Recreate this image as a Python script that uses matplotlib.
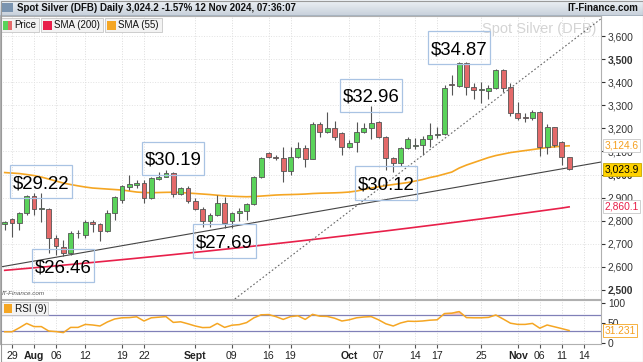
import matplotlib.pyplot as plt
from matplotlib.patches import Rectangle
import numpy as np
import pandas as pd

plt.rcParams['font.family'] = ['Liberation Sans', 'DejaVu Sans']

# trading days shown (Jul 26 .. Nov 12 2024)
dates = pd.bdate_range('2024-07-26', '2024-11-12')
axis_days = pd.bdate_range('2024-07-26', '2024-11-14')

opens = [2786, 2806, 2789, 2835, 2907, 2852, 2849, 2724, 2687, 2659,
         2748, 2738, 2796, 2786, 2756, 2835, 2890, 2946, 2955, 2965,
         2897, 2981, 2991, 3008, 2914, 2940, 2887, 2849, 2800, 2825,
         2878, 2800, 2832, 2842, 2872, 2988, 3092, 3076, 3070, 3015,
         3077, 3114, 3067, 3218, 3186, 3203, 3179, 3118, 3142, 3186,
         3203, 3229, 3161, 3070, 3049, 3114, 3124, 3128, 3153, 3171,
         3176, 3393, 3385, 3482, 3378, 3366, 3363, 3374, 3453, 3378,
         3268, 3251, 3244, 3272, 3118, 3205, 3142, 3075]
highs = [2800, 2812, 2839, 2911, 2919, 2921, 2854, 2738, 2717, 2757,
         2760, 2803, 2803, 2790, 2846, 2907, 2954, 2998, 2976, 2976,
         2989, 3012, 3019, 3011, 2947, 2950, 2897, 2858, 2832, 2911,
         2904, 2839, 2854, 2878, 2994, 3077, 3099, 3085, 3121, 3121,
         3142, 3128, 3229, 3229, 3272, 3232, 3186, 3150, 3229, 3225,
         3296, 3232, 3167, 3077, 3118, 3161, 3157, 3167, 3225, 3207,
         3388, 3431, 3489, 3487, 3395, 3402, 3388, 3456, 3456, 3395,
         3315, 3265, 3280, 3277, 3219, 3207, 3147, 3077]
lows = [2760, 2730, 2760, 2825, 2825, 2796, 2659, 2652, 2646, 2652,
        2724, 2725, 2752, 2713, 2752, 2803, 2875, 2933, 2942, 2875,
        2894, 2976, 2988, 2904, 2911, 2875, 2846, 2774, 2774, 2822,
        2769, 2767, 2800, 2803, 2868, 2984, 3070, 3063, 2969, 2998,
        3070, 3034, 3066, 3161, 3181, 3150, 3085, 3114, 3099, 3179,
        3153, 3157, 3019, 3012, 3037, 3109, 3109, 3085, 3121, 3157,
        3171, 3345, 3380, 3345, 3326, 3309, 3326, 3369, 3359, 3254,
        3236, 3229, 3236, 3080, 3089, 3121, 3041, 3022]
closes = [2796, 2789, 2832, 2907, 2849, 2855, 2724, 2691, 2659, 2746,
          2747, 2796, 2786, 2756, 2832, 2901, 2950, 2960, 2963, 2897,
          2984, 2991, 3008, 2914, 2940, 2887, 2849, 2800, 2825, 2878,
          2791, 2832, 2842, 2872, 2988, 3070, 3077, 3073, 3015, 3077,
          3116, 3066, 3218, 3186, 3203, 3164, 3118, 3138, 3186, 3203,
          3225, 3164, 3070, 3049, 3114, 3153, 3128, 3153, 3171, 3176,
          3374, 3389, 3482, 3380, 3366, 3370, 3374, 3453, 3374, 3268,
          3244, 3244, 3272, 3118, 3205, 3128, 3075, 3024]

sma55 = [3008.8, 3006.6, 3004.5, 3000.2, 2995.8, 2989.3, 2980.7, 2972.0, 2963.3, 2956.9,
         2951.2, 2946.0, 2941.7, 2939.5, 2937.3, 2935.2, 2933.0, 2928.7, 2924.4, 2922.2,
         2921.3, 2922.2, 2923.1, 2923.5, 2922.2, 2920.0, 2917.9, 2915.7, 2913.5, 2910.5,
         2907.9, 2906.2, 2904.9, 2904.0, 2904.9, 2907.0, 2909.2, 2911.4, 2912.7, 2913.5,
         2914.4, 2915.7, 2917.9, 2919.2, 2920.0, 2920.9, 2922.2, 2924.4, 2928.7, 2935.2,
         2941.7, 2946.9, 2952.5, 2956.9, 2961.2, 2965.5, 2972.0, 2978.5, 2987.2, 2993.6,
         3002.3, 3011.0, 3028.3, 3041.3, 3052.1, 3063.0, 3073.8, 3082.5, 3088.9, 3095.4,
         3099.8, 3104.1, 3108.4, 3112.7, 3117.1, 3120.1, 3122.7, 3124.6]
sma200 = [2585.2, 2587.9, 2590.7, 2593.5, 2596.2, 2599.1, 2601.9, 2604.7, 2607.6, 2610.5,
          2613.5, 2616.4, 2619.4, 2622.4, 2625.4, 2628.4, 2631.5, 2634.5, 2637.6, 2640.8,
          2643.9, 2647.1, 2650.2, 2653.4, 2656.7, 2659.9, 2663.2, 2666.5, 2669.8, 2673.2,
          2676.5, 2679.9, 2683.3, 2686.8, 2690.2, 2693.7, 2697.2, 2700.7, 2704.3, 2707.8,
          2711.4, 2715.0, 2718.6, 2722.3, 2725.9, 2729.7, 2733.4, 2737.0, 2740.9, 2744.7,
          2748.4, 2752.3, 2756.0, 2759.9, 2763.9, 2767.7, 2771.7, 2775.7, 2779.6, 2783.6,
          2787.6, 2791.7, 2795.7, 2799.9, 2804.0, 2808.1, 2812.3, 2816.4, 2820.6, 2824.9,
          2829.1, 2833.4, 2837.7, 2842.0, 2846.3, 2850.7, 2855.0, 2860.1]
rsi9 = [28, 28, 38, 49, 41, 41, 30, 28.5, 26, 39,
        39, 46.5, 45, 42.5, 52.5, 60, 63, 63.5, 65.5, 55,
        63, 64.5, 66, 51.5, 53, 48, 42.5, 38.5, 39, 49,
        39, 44.5, 46, 51, 63, 70.5, 71, 66, 59, 66,
        68, 59, 71.5, 67, 66.5, 62, 55, 58, 63, 65,
        66, 58, 48, 42.5, 50, 54.5, 54, 55, 57, 58,
        73.5, 74.5, 78.5, 63.5, 63, 63, 64, 70, 60, 49.5,
        46.5, 46.5, 49, 37, 45, 40.5, 36, 31.231]

tick_dates = ['2024-07-29', '2024-08-01', '2024-08-06', '2024-08-12', '2024-08-19',
              '2024-08-22', '2024-09-02', '2024-09-09', '2024-09-16', '2024-09-19',
              '2024-10-01', '2024-10-07', '2024-10-14', '2024-10-17', '2024-10-25',
              '2024-11-01', '2024-11-06', '2024-11-11', '2024-11-14']
tick_labels = ['29', 'Aug', '06', '12', '19', '22', 'Sept', '09', '16', '19',
               'Oct', '07', '14', '17', '25', 'Nov', '06', '11', '14']
month_labels = ['Aug', 'Sept', 'Oct', 'Nov']
price_ticks = list(range(2500, 3700, 100))

# callouts: text, date, price of box centre
callouts = [('$29.22', '2024-08-02', 2969), ('$26.46', '2024-08-07', 2605),
            ('$30.19', '2024-08-28', 3070), ('$27.69', '2024-09-06', 2713),
            ('$32.96', '2024-10-04', 3343), ('$30.12', '2024-10-08', 2963),
            ('$34.87', '2024-10-22', 3550)]
# trend lines: two anchor points each
trend_solid = [('2024-07-29', 2608.6), ('2024-11-12', 3030.2)]
trend_dotted = [('2024-09-11', 2500), ('2024-11-08', 3520.6)]

up_col, dn_col = '#5ad35a', '#e46a6a'
W, H = 643, 362


def box(l, t, r, b):
    return [l / W, 1 - b / H, (r - l) / W, (b - t) / H]


def xpos(d):
    return axis_days.get_loc(pd.Timestamp(d))


fig = plt.figure(figsize=(W / 100, H / 100), dpi=100)
ax = fig.add_axes(box(0, 16, 601, 299))
ax_r = fig.add_axes(box(0, 300, 601, 344), sharex=ax)

x = np.arange(len(dates))
for i in x:
    o, h, l, c = opens[i], highs[i], lows[i], closes[i]
    col = up_col if c >= o else dn_col
    ax.vlines(i, l, h, color='#555555', lw=0.8, zorder=3)
    ax.add_patch(Rectangle((i - 0.33, min(o, c)), 0.66, max(abs(c - o), 1.5),
                           fc=col, ec='#555555', lw=0.6, zorder=4))

ax.plot(x, sma200, color='#e8204a', lw=1.2, zorder=2)
ax.plot(x, sma55, color='#f5a623', lw=1.2, zorder=2)

(d1, p1), (d2, p2) = trend_solid
ax.axline((xpos(d1), p1), (xpos(d2), p2), color='#444444', lw=0.8, zorder=2)
(d1, p1), (d2, p2) = trend_dotted
ax.axline((xpos(d1), p1), (xpos(d2), p2), color='#666666', lw=0.8, ls=(0, (1.5, 2)), zorder=5)

bw, bh = 8.5, 145
for txt, d, p in callouts:
    xc = xpos(d)
    ax.add_patch(Rectangle((xc - bw / 2, p - bh / 2), bw, bh, fc='none',
                           ec='#a9c3e3', lw=0.9, zorder=6))
    ax.text(xc, p, txt, fontsize=13.4, ha='center', va='center_baseline', zorder=7)

ax.text(0.993, 0.955, 'Spot Silver (DFB)', transform=ax.transAxes, ha='right',
        va='center', fontsize=10.5, color='#d4d4d4', zorder=1)
ax.text(0.003, 0.015, 'IT-Finance.com', transform=ax.transAxes, fontsize=4.5,
        color='#555555', style='italic', zorder=7)

xt = [xpos(d) for d in tick_dates]
for a in (ax, ax_r):
    a.set_xticks(xt)
    a.grid(axis='x', color='#dcdcdc', ls=':', lw=0.7)
    a.yaxis.tick_right()
    a.tick_params(axis='y', length=3, pad=2, labelsize=7.4, colors='#333333')
    a.tick_params(axis='x', length=3, colors='#555555')
    for s in a.spines.values():
        s.set_color('#b0b0b0')
        s.set_linewidth(0.8)
ax.set_xlim(-0.64, 81.35)
ax.set_ylim(2461, 3687)
ax.set_yticks(price_ticks)
ax.set_yticklabels([f'{v:,}' for v in price_ticks])
for lab, v in zip(ax.get_yticklabels(), price_ticks):
    if v % 500 == 0:
        lab.set_fontweight('bold')
ax.grid(axis='y', color='#e2e2e2', ls=':', lw=0.7)
ax.tick_params(axis='x', labelbottom=False, length=0)

# last-value labels on the price axis
tr = ax.get_yaxis_transform()
ax.text(1.006, sma55[-1], f'{sma55[-1]:,.1f}', transform=tr, fontsize=7.4, color='#f5a020',
        va='center', bbox=dict(boxstyle='square,pad=0.15', fc='white', ec='#c8c8c8', lw=0.6))
ax.text(1.006, closes[-1] - 0.1, '3,023.9', transform=tr, fontsize=7.4, color='black',
        va='center', bbox=dict(boxstyle='square,pad=0.15', fc='#ffd200', ec='#c9a800', lw=0.6))
ax.text(1.006, sma200[-1], f'{sma200[-1]:,.1f}', transform=tr, fontsize=7.4, color='#e8204a',
        va='center', bbox=dict(boxstyle='square,pad=0.15', fc='white', ec='#c8c8c8', lw=0.6))

# RSI panel
ax_r.plot(x, rsi9, color='#f5a623', lw=1.1, zorder=3)
r = np.array(rsi9)
ax_r.fill_between(x, r, 70, where=r > 70, interpolate=True, color='#f6c9c9', zorder=2)
ax_r.axhline(70, color='#8080b8', lw=0.9)
ax_r.axhline(30, color='#8080b8', lw=0.9)
ax_r.set_ylim(-2.5, 107.5)
ax_r.set_yticks([0, 50, 100])
ax_r.set_xticklabels(tick_labels)
ax_r.tick_params(axis='x', labelsize=7.6, pad=2, labelcolor='#222222')
for lab in ax_r.get_xticklabels():
    if lab.get_text() in month_labels:
        lab.set_fontweight('bold')
ax_r.text(1.006, rsi9[-1], f'{rsi9[-1]:.3f}', transform=ax_r.get_yaxis_transform(),
          fontsize=7.4, color='#f5a020', va='center',
          bbox=dict(boxstyle='square,pad=0.15', fc='white', ec='#f5a623', lw=0.6))

# header overlay in pixel coordinates
ov = fig.add_axes([0, 0, 1, 1], zorder=10)
ov.axis('off')
grad = np.linspace(0, 1, 32).reshape(-1, 1)
ov.imshow(grad, cmap=plt.matplotlib.colors.LinearSegmentedColormap.from_list('g', ['#eef2f6', '#c9d2dc']),
          extent=(0, W, 15, 0), aspect='auto')
ov.set_xlim(0, W)
ov.set_ylim(H, 0)
ov.add_patch(Rectangle((0, 15), W, 0.8, fc='#a8b4c0', ec='none'))
ov.add_patch(Rectangle((2, 3), 11, 9, fc='#7a94b0', ec='none'))
ov.text(17, 8, 'Spot Silver (DFB) Daily 3,024.2 -1.57% 12 Nov 2024, 07:36:07',
        fontsize=7, fontweight='bold', va='center', color='#111111')
ov.text(638, 8, 'IT-Finance.com', fontsize=7, fontweight='bold', va='center', ha='right',
        color='#111111')
for (l, r_, label, col) in [(0, 39.5, 'Price', None), (40, 103, 'SMA (200)', '#e8204a'),
                            (104, 162.5, 'SMA (55)', '#f5a623')]:
    ov.add_patch(Rectangle((l + 0.5, 18), r_ - l - 1, 14, fc='#f3f3f3', ec='#c6c6c6', lw=0.6))
    if col is None:
        ov.add_patch(Rectangle((l + 3, 20.5), 4.5, 9, fc=up_col, ec='none'))
        ov.add_patch(Rectangle((l + 7.5, 20.5), 4.5, 9, fc=dn_col, ec='none'))
    else:
        ov.add_patch(Rectangle((l + 3, 20.5), 9, 9, fc=col, ec='none'))
    ov.text(l + 14.5, 25.5, label, fontsize=7, va='center', color='#111111')
ov.add_patch(Rectangle((1, 302), 47, 13, fc='#f3f3f3', ec='#c6c6c6', lw=0.6))
ov.add_patch(Rectangle((3.5, 304), 8.5, 9, fc='#f5a623', ec='none'))
ov.text(15, 308.5, 'RSI (9)', fontsize=7.2, va='center', color='#111111')
ov.add_patch(Rectangle((0.5, 0.5), W - 1, H - 1, fc='none', ec='#9a9a9a', lw=0.8))

fig.savefig('out.png', dpi=100)
